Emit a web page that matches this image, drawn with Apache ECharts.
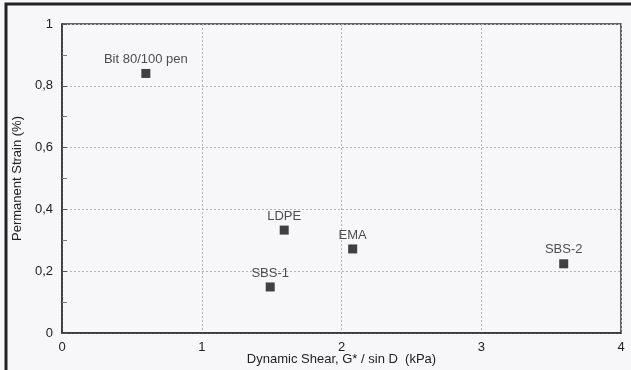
<!DOCTYPE html>
<html>
<head>
<meta charset="utf-8">
<script src="https://cdn.jsdelivr.net/npm/echarts@6/dist/echarts.min.js"></script>
<style>html,body{margin:0;padding:0;background:#f7f7f9;}#c{width:631px;height:370px;}</style>
</head>
<body>
<div id="c"></div>
<script>
var names = ["Bit 80/100 pen", "LDPE", "EMA", "SBS-1", "SBS-2"];
var shear = [0.60, 1.59, 2.08, 1.49, 3.59];
var strain = [0.84, 0.333, 0.272, 0.149, 0.224];
var xTicks = [0, 1, 2, 3, 4];
var yTicks = [0, 0.2, 0.4, 0.6, 0.8, 1];

var chart = echarts.init(document.getElementById('c'));
var font = 'Liberation Sans, Arial, sans-serif';
chart.setOption({
  backgroundColor: '#f7f7f9',
  animation: false,
  graphic: [{
    type: 'rect', shape: {x: 6, y: 4, width: 640, height: 380},
    style: {fill: 'none', stroke: '#222', lineWidth: 3}, silent: true
  }],
  grid: {left: 62, top: 24, right: 10, bottom: 37, outerBoundsMode: 'none', containLabel: false,
    show: true, borderColor: '#333', borderWidth: 1.5, backgroundColor: 'transparent'},
  xAxis: {
    type: 'value', min: 0, max: 4, interval: 1,
    name: 'Dynamic Shear, G* / sin D  (kPa)', nameLocation: 'middle', nameGap: 20, nameMoveOverlap: false,
    nameTextStyle: {fontFamily: font, fontSize: 13, color: '#222'},
    axisLine: {show: true, lineStyle: {color: '#333', width: 1.5}},
    axisTick: {show: false},
    axisLabel: {fontFamily: font, fontSize: 13, color: '#222', margin: 8,
      formatter: function(v){ return xTicks.indexOf(v) >= 0 ? String(v) : ''; }},
    splitLine: {show: true, lineStyle: {color: '#b5b5b5', type: [2, 2], width: 1}}
  },
  yAxis: {
    type: 'value', min: 0, max: 1, interval: 0.2,
    name: 'Permanent Strain (%)', nameLocation: 'middle', nameGap: 38, nameMoveOverlap: false,
    nameTextStyle: {fontFamily: font, fontSize: 13, color: '#222'},
    axisLine: {show: true, lineStyle: {color: '#333', width: 1.5}},
    axisTick: {show: true, inside: true, length: 5, lineStyle: {color: '#555'}},
    minorTick: {show: true, splitNumber: 2, length: 5, lineStyle: {color: '#777'}},
    axisLabel: {fontFamily: font, fontSize: 13, color: '#222', margin: 9,
      formatter: function(v){ var r = Math.round(v*10)/10; return String(r).replace('.', ','); }},
    splitLine: {show: true, lineStyle: {color: '#b5b5b5', type: [2, 2], width: 1}}
  },
  series: [{
    type: 'scatter',
    symbol: 'rect', symbolSize: 9,
    itemStyle: {color: '#111'},
    data: names.map(function(n, i){ return {name: n, value: [shear[i], strain[i]]}; }),
    label: {show: true, position: 'top', distance: 3, formatter: '{b}',
      fontFamily: font, fontSize: 13, color: '#222'}
  }]
});
</script>
</body>
</html>
